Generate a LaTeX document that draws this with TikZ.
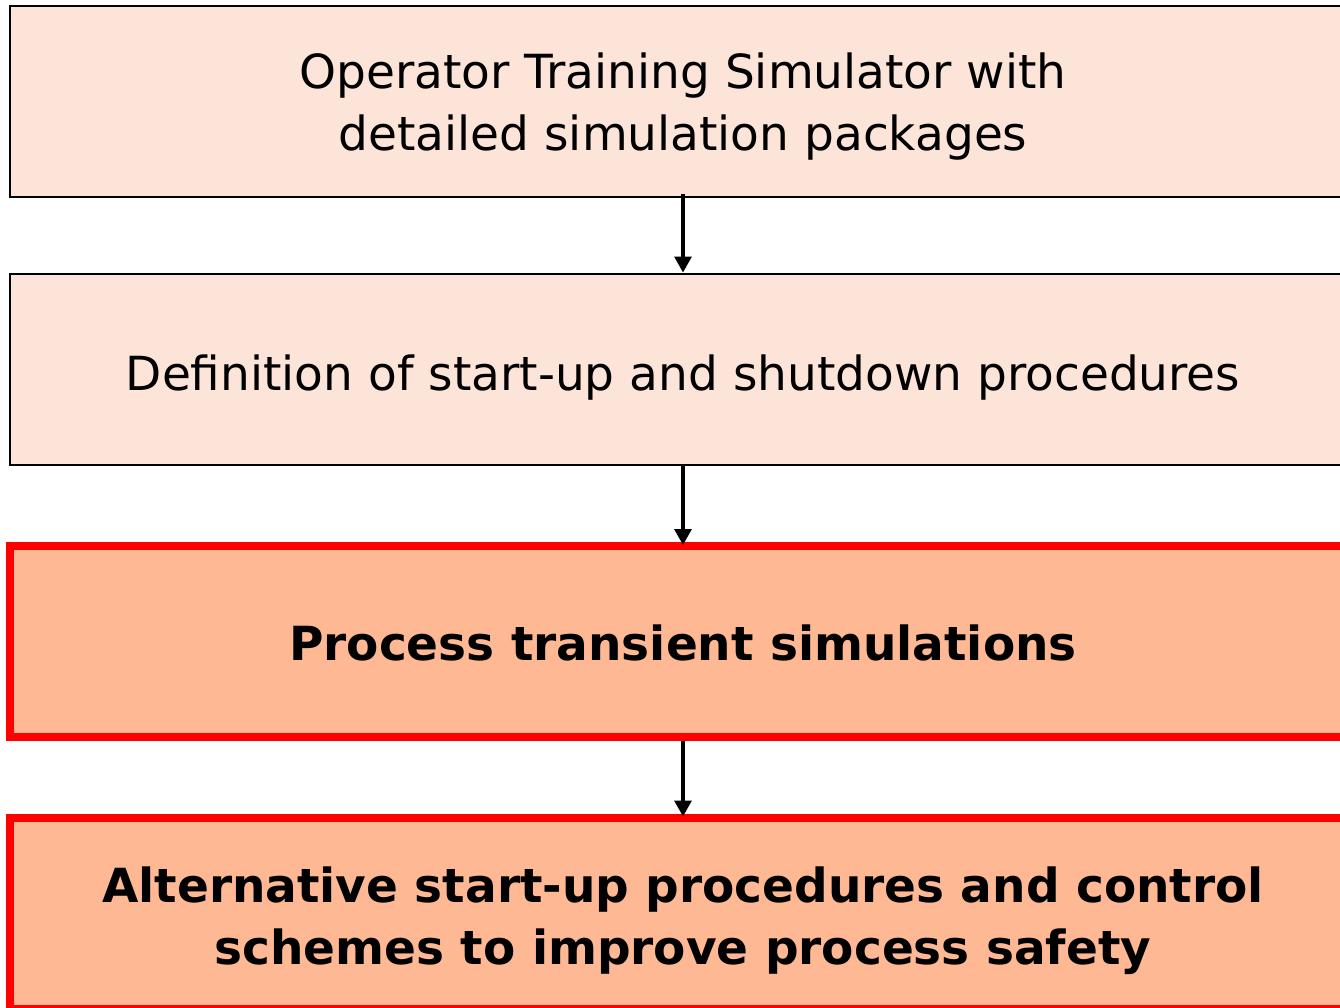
\documentclass[tikz,border=0pt]{standalone}
\usepackage{fontspec}
\setmainfont{DejaVu Sans}
\usetikzlibrary{arrows.meta}
\definecolor{lightpeach}{RGB}{253,228,217}
\definecolor{darkpeach}{RGB}{255,184,148}
\definecolor{boxred}{RGB}{255,0,0}
\tikzset{
  plainbox/.style={draw=black, line width=2pt, fill=lightpeach, minimum width=1346pt, minimum height=191pt, inner sep=0pt},
  hotbox/.style={draw=boxred, line width=8pt, fill=darkpeach, minimum width=1346pt, minimum height=191pt, inner sep=0pt},
  plaintext/.style={align=center, inner sep=0pt, font=\fontsize{47}{62}\selectfont},
  hottext/.style={align=center, inner sep=0pt, font=\fontsize{47}{62}\selectfont\bfseries},
  flowarrow/.style={line width=3.2pt, -{Triangle[width=17pt,length=16pt]}}
}
\begin{document}
\begin{tikzpicture}[x=1pt,y=-1pt]
\useasboundingbox (0,0) rectangle (1340,1007);
\clip (0,0) rectangle (1340,1007);
\fill[white] (0,0) rectangle (1340,1007);
\node[plainbox] (b1) at (683,101.5) {};
\node[plainbox] (b2) at (683,369) {};
\node[hotbox] (b3) at (683,641.5) {};
\node[hotbox] (b4) at (683,913) {};
\node[plaintext] (t1) at ([yshift=-5pt]b1.center) {Operator Training Simulator with\\detailed simulation packages};
\node[plaintext] (t2) at ([yshift=-9pt]b2.center) {Definition of start-up and shutdown procedures};
\node[hottext] (t3) at ([yshift=-1pt]b3.center) {Process transient simulations};
\node[hottext] (t4) at ([yshift=-8pt]b4.center) {Alternative start-up procedures and control\\schemes to improve process safety};
\draw[flowarrow] ([yshift=4pt]b1.south) -- (b2.north);
\draw[flowarrow] (b2.south) -- ([yshift=-3pt]b3.north);
\draw[flowarrow] (b3.south) -- ([yshift=-3pt]b4.north);
\end{tikzpicture}
\end{document}
